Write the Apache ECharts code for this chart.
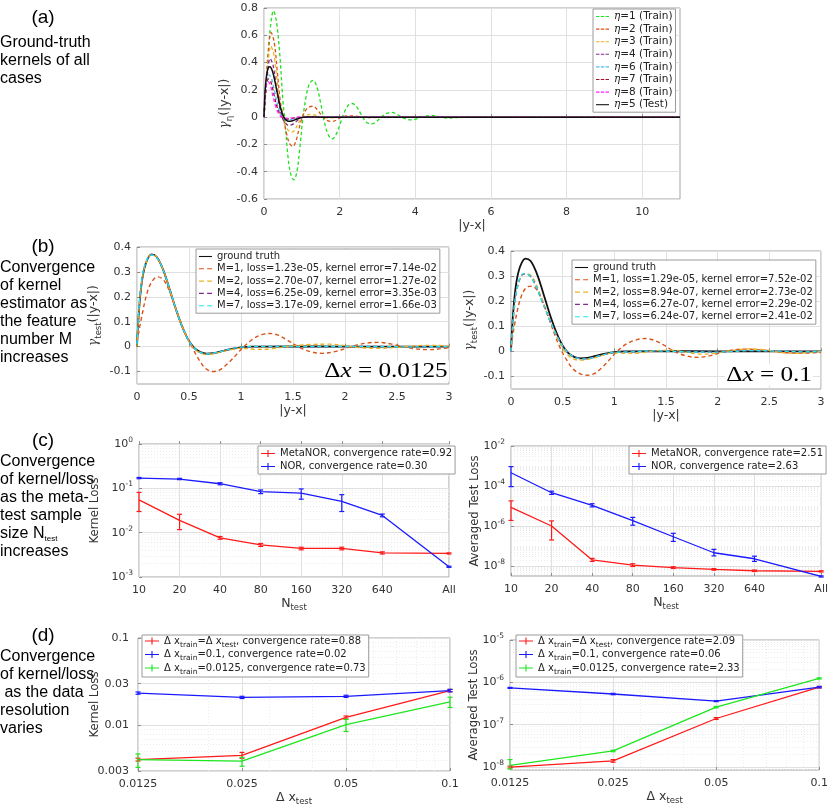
<!DOCTYPE html>
<html><head><meta charset="utf-8">
<script src="https://cdn.jsdelivr.net/npm/echarts@6/dist/echarts.min.js"></script>
<style>html,body{margin:0;padding:0;background:#fff}#c{width:831px;height:808px}</style>
</head><body><div id="c"></div>
<script>
// ================= DATA =================
// (a) ground-truth kernels  [|y-x|, gamma]
const eta1 = [[0,0],[0.05,0.2],[0.1,0.42],[0.17,0.66],[0.25,0.78],[0.33,0.7],[0.42,0.45],[0.5,0.12],[0.56,-0.05],[0.63,-0.28],[0.71,-0.42],[0.79,-0.46],[0.87,-0.4],[0.95,-0.22],[1.03,0],[1.12,0.16],[1.21,0.25],[1.3,0.27],[1.4,0.22],[1.5,0.1],[1.6,-0.04],[1.7,-0.13],[1.8,-0.16],[1.9,-0.13],[2.0,-0.06],[2.1,0.02],[2.22,0.085],[2.33,0.1],[2.45,0.075],[2.57,0.02],[2.7,-0.035],[2.83,-0.05],[2.96,-0.035],[3.1,0],[3.23,0.026],[3.36,0.035],[3.5,0.024],[3.63,0.002],[3.76,-0.014],[3.9,-0.02],[4.03,-0.013],[4.17,0],[4.3,0.009],[4.43,0.012],[4.56,0.007],[4.7,-0.002],[4.85,-0.007],[5.0,-0.006],[5.2,0],[5.4,0.003],[5.7,0],[6.2,0],[8,0],[11,0]];
const eta2 = [[0,0],[0.05,0.22],[0.1,0.44],[0.19,0.62],[0.27,0.55],[0.35,0.34],[0.43,0.12],[0.51,0],[0.58,-0.1],[0.67,-0.19],[0.76,-0.215],[0.85,-0.17],[0.93,-0.08],[1.0,-0.01],[1.1,0.05],[1.2,0.075],[1.3,0.08],[1.42,0.05],[1.55,0.005],[1.68,-0.025],[1.8,-0.032],[1.93,-0.02],[2.05,0],[2.2,0.009],[2.35,0.01],[2.5,0.004],[2.7,-0.003],[2.9,-0.003],[3.2,0],[5,0],[11,0]];
const eta3 = [[0,0],[0.05,0.2],[0.1,0.38],[0.18,0.52],[0.26,0.46],[0.34,0.28],[0.42,0.1],[0.5,-0.01],[0.58,-0.07],[0.67,-0.105],[0.75,-0.11],[0.84,-0.08],[0.93,-0.035],[1.02,0],[1.12,0.015],[1.25,0.02],[1.38,0.012],[1.5,0],[1.65,-0.006],[1.8,-0.005],[2.0,0],[4,0],[11,0]];
const eta4 = [[0,0],[0.05,0.2],[0.1,0.34],[0.16,0.43],[0.24,0.38],[0.32,0.23],[0.4,0.09],[0.48,0],[0.56,-0.04],[0.65,-0.06],[0.74,-0.055],[0.84,-0.035],[0.95,-0.01],[1.05,0.002],[1.2,0.004],[1.4,0],[3,0],[11,0]];
const eta6 = [[0,0],[0.04,0.19],[0.08,0.28],[0.13,0.31],[0.2,0.28],[0.28,0.19],[0.36,0.09],[0.44,0.02],[0.52,-0.012],[0.62,-0.02],[0.74,-0.015],[0.88,-0.005],[1.0,0],[2,0],[11,0]];
const eta7 = [[0,0],[0.04,0.18],[0.08,0.26],[0.12,0.28],[0.18,0.26],[0.26,0.17],[0.34,0.08],[0.42,0.02],[0.5,-0.008],[0.6,-0.014],[0.72,-0.01],[0.86,-0.003],[1.0,0],[2,0],[11,0]];
const eta8 = [[0,0],[0.03,0.16],[0.06,0.23],[0.1,0.26],[0.16,0.24],[0.24,0.15],[0.32,0.07],[0.4,0.02],[0.48,-0.004],[0.58,-0.01],[0.7,-0.007],[0.85,-0.002],[1.0,0],[2,0],[11,0]];
const eta5 = [[0,0],[0.03,0.2],[0.07,0.31],[0.11,0.36],[0.15,0.37],[0.2,0.355],[0.26,0.3],[0.32,0.22],[0.38,0.14],[0.44,0.065],[0.5,0.015],[0.56,-0.015],[0.62,-0.028],[0.68,-0.031],[0.76,-0.026],[0.85,-0.016],[0.95,-0.006],[1.05,0],[1.2,0.001],[1.5,0],[3,0],[11,0]];
const etaNames = ['η=1 (Train)','η=2 (Train)','η=3 (Train)','η=4 (Train)','η=6 (Train)','η=7 (Train)','η=8 (Train)','η=5 (Test)'];

// (b) kernel estimators
const groundTruth = [[0,0],[0.02,0.15],[0.05,0.27],[0.09,0.34],[0.14,0.37],[0.19,0.36],[0.25,0.31],[0.31,0.235],[0.37,0.155],[0.43,0.085],[0.49,0.03],[0.55,-0.005],[0.61,-0.022],[0.67,-0.028],[0.74,-0.026],[0.82,-0.018],[0.9,-0.01],[1.0,-0.003],[1.1,0],[1.5,0.001],[2,0],[2.5,0],[3,0]];
const m1Fine = [[0,0.02],[0.05,0.13],[0.1,0.22],[0.15,0.265],[0.2,0.28],[0.25,0.27],[0.3,0.235],[0.36,0.17],[0.42,0.1],[0.48,0.04],[0.54,-0.01],[0.6,-0.055],[0.66,-0.088],[0.73,-0.1],[0.8,-0.092],[0.88,-0.065],[0.96,-0.03],[1.04,0.005],[1.12,0.032],[1.2,0.048],[1.27,0.053],[1.35,0.047],[1.45,0.025],[1.55,0],[1.65,-0.018],[1.78,-0.027],[1.9,-0.02],[2.0,-0.008],[2.1,0.005],[2.22,0.015],[2.32,0.017],[2.45,0.01],[2.58,-0.002],[2.7,-0.01],[2.82,-0.012],[2.92,-0.008],[3,-0.004]];
const m2Fine = [[0,0],[0.02,0.15],[0.05,0.27],[0.09,0.34],[0.14,0.37],[0.19,0.36],[0.25,0.31],[0.31,0.235],[0.37,0.155],[0.43,0.085],[0.49,0.028],[0.55,-0.008],[0.61,-0.026],[0.67,-0.031],[0.74,-0.028],[0.82,-0.02],[0.9,-0.012],[1.0,-0.006],[1.15,-0.011],[1.3,-0.008],[1.5,0.003],[1.7,0.009],[1.85,0.01],[2.0,0.004],[2.15,-0.004],[2.3,-0.007],[2.5,-0.003],[2.7,0.004],[2.85,0.005],[3,0.002]];
const m4Fine = [[0,0.01],[0.02,0.155],[0.05,0.275],[0.09,0.343],[0.14,0.369],[0.19,0.359],[0.25,0.31],[0.31,0.235],[0.37,0.155],[0.43,0.085],[0.49,0.03],[0.55,-0.006],[0.61,-0.023],[0.67,-0.029],[0.74,-0.026],[0.82,-0.018],[0.9,-0.009],[1.0,-0.003],[1.2,0.001],[1.6,-0.001],[2.2,0.001],[2.6,-0.001],[3,0]];
const m7Fine = [[0,0.01],[0.02,0.16],[0.05,0.28],[0.09,0.345],[0.14,0.368],[0.19,0.358],[0.25,0.31],[0.31,0.235],[0.37,0.155],[0.43,0.085],[0.49,0.03],[0.55,-0.006],[0.61,-0.023],[0.67,-0.029],[0.74,-0.026],[0.82,-0.018],[0.9,-0.009],[1.0,-0.002],[1.2,0.001],[1.6,0],[2.2,0.001],[2.6,-0.001],[3,0]];
const m1Coarse = [[0,0.02],[0.05,0.14],[0.1,0.22],[0.15,0.255],[0.2,0.26],[0.25,0.245],[0.3,0.205],[0.36,0.14],[0.42,0.07],[0.48,0.01],[0.54,-0.035],[0.6,-0.07],[0.67,-0.09],[0.74,-0.095],[0.8,-0.09],[0.88,-0.065],[0.96,-0.03],[1.04,0.005],[1.12,0.03],[1.22,0.047],[1.3,0.051],[1.38,0.045],[1.48,0.025],[1.58,0],[1.68,-0.016],[1.8,-0.024],[1.92,-0.018],[2.02,-0.006],[2.12,0.004],[2.25,0.009],[2.4,0.006],[2.55,0],[2.7,-0.006],[2.85,-0.007],[3,-0.004]];
const m2Coarse = [[0,0],[0.04,0.2],[0.08,0.28],[0.13,0.31],[0.2,0.3],[0.28,0.23],[0.36,0.14],[0.44,0.06],[0.52,0],[0.6,-0.03],[0.68,-0.035],[0.78,-0.028],[0.9,-0.014],[1.0,-0.006],[1.12,-0.008],[1.25,-0.006],[1.4,0.002],[1.55,0.005],[1.7,-0.004],[1.85,-0.011],[2.0,-0.006],[2.15,0.004],[2.3,0.01],[2.45,0.006],[2.6,-0.004],[2.75,-0.008],[2.9,-0.004],[3,0]];
const m4Coarse = [[0,0],[0.03,0.17],[0.07,0.27],[0.12,0.308],[0.17,0.305],[0.23,0.27],[0.3,0.2],[0.37,0.13],[0.44,0.066],[0.51,0.016],[0.58,-0.014],[0.65,-0.027],[0.72,-0.03],[0.8,-0.024],[0.9,-0.013],[1.0,-0.005],[1.15,-0.003],[1.4,0.002],[1.7,-0.002],[2.0,-0.003],[2.3,0.003],[2.6,0.001],[2.85,-0.002],[3,0]];
const m7Coarse = [[0,0],[0.03,0.17],[0.07,0.27],[0.12,0.31],[0.17,0.305],[0.23,0.27],[0.3,0.2],[0.37,0.13],[0.44,0.065],[0.51,0.015],[0.58,-0.015],[0.65,-0.028],[0.72,-0.03],[0.8,-0.024],[0.9,-0.013],[1.0,-0.004],[1.15,-0.002],[1.4,0.002],[1.7,-0.002],[2.0,-0.003],[2.3,0.003],[2.6,0.001],[2.85,-0.002],[3,0]];
const fineNames = ['ground truth','M=1, loss=1.23e-05, kernel error=7.14e-02','M=2, loss=2.70e-07, kernel error=1.27e-02','M=4, loss=6.25e-09, kernel error=3.35e-03','M=7, loss=3.17e-09, kernel error=1.66e-03'];
const coarseNames = ['ground truth','M=1, loss=1.29e-05, kernel error=7.52e-02','M=2, loss=8.94e-07, kernel error=2.73e-02','M=4, loss=6.27e-07, kernel error=2.29e-02','M=7, loss=6.24e-07, kernel error=2.41e-02'];

// (c) convergence vs N_test
const nTest = [10,20,40,80,160,320,640,2000];
const nTestLabels = ['10','20','40','80','160','320','640','All'];
const kernelMeta   = [0.055,0.019,0.0076,0.0053,0.0044,0.0044,0.0035,0.0034];
const kernelMetaLo = [0.030,0.0117,0.0071,0.0049,0.0041,0.0041,0.0033,0.0033];
const kernelMetaHi = [0.081,0.026,0.0082,0.0057,0.0047,0.0047,0.0037,0.0035];
const kernelNor    = [0.17,0.162,0.127,0.084,0.078,0.051,0.0245,0.0017];
const kernelNorLo  = [0.165,0.157,0.12,0.076,0.057,0.030,0.0228,0.00165];
const kernelNorHi  = [0.176,0.168,0.134,0.092,0.097,0.072,0.0263,0.00175];
const testMeta   = [8.5e-6,1e-6,2e-8,1.1e-8,8.3e-9,6.8e-9,5.8e-9,5.4e-9];
const testMetaLo = [1.9e-6,2e-7,1.7e-8,9.5e-9,7.5e-9,6.2e-9,5.3e-9,5e-9];
const testMetaHi = [1.8e-5,1.8e-6,2.4e-8,1.3e-8,9.2e-9,7.4e-9,6.3e-9,5.8e-9];
const testNor    = [4.6e-4,4.6e-5,1.08e-5,1.85e-6,2.9e-7,4.6e-8,2.3e-8,3e-9];
const testNorLo  = [9.3e-5,3.8e-5,9e-6,1.1e-6,1.7e-7,3.2e-8,1.7e-8,2.8e-9];
const testNorHi  = [9.3e-4,5.5e-5,1.3e-5,2.7e-6,4.3e-7,6.8e-8,3.1e-8,3.2e-9];
const cNamesL = ['MetaNOR, convergence rate=0.92','NOR, convergence rate=0.30'];
const cNamesR = ['MetaNOR, convergence rate=2.51','NOR, convergence rate=2.63'];

// (d) convergence vs resolution
const dxTest = ['0.0125','0.025','0.05','0.1'];
const kSame   = [0.00405,0.00453,0.0123,0.025];
const kSameLo = [0.0039,0.0042,0.0118,0.0242];
const kSameHi = [0.0042,0.0049,0.0128,0.0258];
const kCoarse   = [0.0234,0.0209,0.0215,0.025];
const kCoarseLo = [0.0227,0.0203,0.0209,0.0242];
const kCoarseHi = [0.0241,0.0215,0.0221,0.0258];
const kFine   = [0.00405,0.0039,0.0102,0.0186];
const kFineLo = [0.0033,0.0034,0.0085,0.016];
const kFineHi = [0.0047,0.0043,0.0117,0.021];
const tSame   = [1e-8,1.4e-8,1.4e-7,7.7e-7];
const tSameLo = [9.5e-9,1.3e-8,1.33e-7,7.4e-7];
const tSameHi = [1.05e-8,1.5e-8,1.47e-7,8e-7];
const tCoarse   = [7.4e-7,5.3e-7,3.6e-7,7.7e-7];
const tCoarseLo = [7.2e-7,5.1e-7,3.5e-7,7.4e-7];
const tCoarseHi = [7.6e-7,5.5e-7,3.7e-7,8e-7];
const tFine   = [1.1e-8,2.4e-8,2.6e-7,1.24e-6];
const tFineLo = [9e-9,2.3e-8,2.5e-7,1.2e-6];
const tFineHi = [1.5e-8,2.5e-8,2.7e-7,1.28e-6];
const dRatesL = ['0.88','0.02','0.73'];
const dRatesR = ['2.09','0.06','2.33'];

// tick values
const aXTicks = [0,2,4,6,8,10];
const aYTicks = [-0.6,-0.4,-0.2,0,0.2,0.4,0.6,0.8];
const bXTicks = [0,0.5,1,1.5,2,2.5,3];
const bYTicks = [-0.1,0,0.1,0.2,0.3,0.4];
const cLYTicks = [1e-3,1e-2,1e-1,1];
const cRYTicks = [1e-8,1e-6,1e-4,1e-2];
const dLYTicks = [0.003,0.01,0.03,0.1];
const dRYTicks = [1e-8,1e-7,1e-6,1e-5];
const dXMinor = [0.02,0.03,0.04,0.06,0.07,0.08,0.09];

// ================= CHART =================
const TF = 'DejaVu Sans';
const CF = 'DejaVu Sans Condensed';
const lg = Math.log10;
const nPos = nTest.map(n => Math.log2(n / 10));

// minor log grid positions (k * 10^j) inside [lo, hi] (log10 space), excluding major ticks
function logMinors(lo, hi, majors) {
  const out = [];
  for (let j = Math.floor(lo) - 1; j <= Math.ceil(hi); j++) {
    for (let k = 1; k <= 9; k++) {
      const v = lg(k) + j;
      if (v > lo + 1e-6 && v < hi - 1e-6 && !majors.some(m => Math.abs(lg(m) - v) < 1e-6)) out.push(v);
    }
  }
  return out;
}

const supRich = {
  b: {fontFamily: TF, fontSize: 11, lineHeight: 16, color: '#333'},
  s: {fontFamily: TF, fontSize: 7.5, lineHeight: 8, verticalAlign: 'top', color: '#333'}
};
const nameRich = {
  b: {fontFamily: TF, fontSize: 12.5, lineHeight: 18, color: '#333'},
  s: {fontFamily: TF, fontSize: 8.5, lineHeight: 8, verticalAlign: 'bottom', color: '#333'},
  g: {fontFamily: 'DejaVu Serif', fontStyle: 'italic', fontSize: 12, lineHeight: 18, color: '#333'},
  k: {fontFamily: CF, fontSize: 13, lineHeight: 18, color: '#333'}
};

function grid(l, t, w, h) {
  return {left: l, top: t, width: w, height: h, show: true, borderColor: '#a3a3a3', borderWidth: 1, backgroundColor: 'transparent'};
}
function axis(dim, gi, min, max, ticks, fmt, name, gap, extra) {
  return Object.assign({
    type: 'value', gridIndex: gi, min: min, max: max,
    axisLine: {show: false},
    axisTick: {show: true, inside: true, length: 3, customValues: ticks, lineStyle: {color: '#777', width: 0.8}},
    axisLabel: {customValues: ticks, formatter: fmt, fontFamily: TF, fontSize: 11, color: '#333', margin: dim === 'x' ? 8 : 6, rich: supRich},
    splitLine: {show: true, lineStyle: {color: '#e0e0e0', width: 1}},
    name: name, nameLocation: 'middle', nameGap: gap, nameMoveOverlap: dim === 'x',
    nameTextStyle: {fontFamily: TF, fontSize: 12.5, color: '#333', rich: nameRich}
  }, extra || {});
}
function minorAxis(gi, min, max, vals) {
  return {type: 'value', gridIndex: gi, min: min, max: max, z: 0,
    axisLine: {show: false},
    axisTick: {show: false, customValues: vals},
    axisLabel: {show: false, customValues: vals},
    splitLine: {show: true, lineStyle: {color: '#ececec', width: 1, type: [1, 2]}}};
}
const plain = v => String(+(+v).toFixed(3));
const pow10 = v => '{b|10}{s|' + Math.round(v) + '}';

function catAxis(gi) {
  return {type: 'category', gridIndex: gi, data: dxTest, boundaryGap: false,
   axisLine: {show: false}, axisTick: {show: true, inside: true, length: 3, alignWithLabel: true, lineStyle: {color: '#777', width: 0.8}},
   axisLabel: {fontFamily: TF, fontSize: 11, color: '#333', margin: 8},
   splitLine: {show: true, lineStyle: {color: '#e0e0e0', width: 1}},
   name: '{b|Δ x}{s|test}', nameLocation: 'middle', nameGap: 16, nameTextStyle: {rich: nameRich}};
}
const nFmt = v => nTestLabels[nPos.findIndex(p => Math.abs(p - v) < 1e-6)] || '';
const dxMin = Math.log2(+dxTest[0]), dxMax = Math.log2(+dxTest[dxTest.length - 1]);
const xAxes = [
  axis('x', 0, 0, 11, aXTicks, plain, '{b||y-x|}', 15),
  axis('x', 1, 0, 3, bXTicks, plain, '{b||y-x|}', 15),
  axis('x', 2, 0, 3, bXTicks, plain, '{b||y-x|}', 15),
  axis('x', 3, 0, nPos[nPos.length - 1], nPos, nFmt, '{b|N}{s|test}', 15),
  axis('x', 4, 0, nPos[nPos.length - 1], nPos, nFmt, '{b|N}{s|test}', 15),
  catAxis(5), catAxis(6),
  minorAxis(5, dxMin, dxMax, dXMinor.map(Math.log2)),
  minorAxis(6, dxMin, dxMax, dXMinor.map(Math.log2))
];
const cLR = [lg(1e-3), lg(1)], cRR = [-8.5, lg(1e-2)], dLR = [lg(0.003), lg(0.1)], dRR = [-8.07, lg(1e-5)];
const yAxes = [
  axis('y', 0, -0.6, 0.8, aYTicks, plain, '{g|γ}{s|η}{b|(|y-x|)}', 30),
  axis('y', 1, -0.15, 0.4, bYTicks, plain, '{g|γ}{s|test}{b|(|y-x|)}', 34),
  axis('y', 2, -0.15, 0.4, bYTicks, plain, '{g|γ}{s|test}{b|(|y-x|)}', 32),
  axis('y', 3, cLR[0], cLR[1], cLYTicks.map(lg), pow10, '{k|Kernel Loss}', 35),
  axis('y', 4, cRR[0], cRR[1], cRYTicks.map(lg), pow10, '{k|Averaged Test Loss}', 27),
  axis('y', 5, dLR[0], dLR[1], dLYTicks.map(lg), v => String(+Math.pow(10, v).toPrecision(1)), '{k|Kernel Loss}', 34),
  axis('y', 6, dRR[0], dRR[1], dRYTicks.map(lg), pow10, '{k|Averaged Test Loss}', 27),
  minorAxis(3, cLR[0], cLR[1], logMinors(cLR[0], cLR[1], cLYTicks)),
  minorAxis(4, cRR[0], cRR[1], logMinors(cRR[0], cRR[1], cRYTicks)),
  minorAxis(5, dLR[0], dLR[1], logMinors(dLR[0], dLR[1], dLYTicks)),
  minorAxis(6, dRR[0], dRR[1], logMinors(dRR[0], dRR[1], dRYTicks))
];
yAxes[5].axisLabel.margin = 9;

const series = [];
// (a)
const etaData = [eta1, eta2, eta3, eta4, eta6, eta7, eta8, eta5];
const etaColors = ['#22e022', '#d95319', '#edb120', '#7e2f8e', '#4dbeee', '#a2142f', '#ff22ff', '#111'];
etaData.forEach((d, i) => {
  const test = i === etaData.length - 1;
  series.push({type: 'line', name: etaNames[i], xAxisIndex: 0, yAxisIndex: 0, data: d, smooth: 0.35, symbol: 'none',
    color: etaColors[i], z: test ? 5 : 3,
    lineStyle: {color: etaColors[i], width: test ? 1.5 : 1.3, type: test ? 'solid' : [3.5, 2.5]}});
});
// (b)
const bColors = ['#111', '#d95319', '#edb120', '#7e2f8e', '#22e8e8'];
[[groundTruth, m1Fine, m2Fine, m4Fine, m7Fine, fineNames, 1], [groundTruth, m1Coarse, m2Coarse, m4Coarse, m7Coarse, coarseNames, 2]].forEach(set => {
  const gi = set[6];
  for (let i = 0; i < 5; i++) {
    series.push({type: 'line', name: set[5][i], xAxisIndex: gi, yAxisIndex: gi, data: set[i], smooth: 0.35, symbol: 'none',
      color: bColors[i], z: 3 + i,
      lineStyle: {color: bColors[i], width: i === 0 ? 1.8 : 1.4, type: i === 0 ? 'solid' : [4, 3]}});
  }
});
// error bars
function errBars(gi, xs, lo, hi, color) {
  return {type: 'custom', xAxisIndex: gi, yAxisIndex: gi, silent: true, z: 6,
    encode: {x: 0, y: [1, 2]},
    data: xs.map((x, i) => [x, lg(lo[i]), lg(hi[i])]),
    renderItem: (params, api) => {
      const a = api.coord([api.value(0), api.value(1)]);
      const b = api.coord([api.value(0), api.value(2)]);
      const w = 2.5, st = {stroke: color, lineWidth: 1.2, fill: null};
      return {type: 'group', children: [
        {type: 'line', shape: {x1: a[0], y1: a[1], x2: b[0], y2: b[1]}, style: st},
        {type: 'line', shape: {x1: a[0] - w, y1: a[1], x2: a[0] + w, y2: a[1]}, style: st},
        {type: 'line', shape: {x1: b[0] - w, y1: b[1], x2: b[0] + w, y2: b[1]}, style: st}
      ]};
    }};
}
function errLine(gi, name, xs, vals, color) {
  return {type: 'line', name: name, xAxisIndex: gi, yAxisIndex: gi, symbol: 'none', color: color, z: 5,
    data: xs.map((x, i) => [x, lg(vals[i])]), lineStyle: {color: color, width: 1.3}};
}
const RED = '#ff1a1a', BLUE = '#1a1aff', GREEN = '#1ee61e';
series.push(errLine(3, cNamesL[0], nPos, kernelMeta, RED), errBars(3, nPos, kernelMetaLo, kernelMetaHi, RED));
series.push(errLine(3, cNamesL[1], nPos, kernelNor, BLUE), errBars(3, nPos, kernelNorLo, kernelNorHi, BLUE));
series.push(errLine(4, cNamesR[0], nPos, testMeta, RED), errBars(4, nPos, testMetaLo, testMetaHi, RED));
series.push(errLine(4, cNamesR[1], nPos, testNor, BLUE), errBars(4, nPos, testNorLo, testNorHi, BLUE));
const dIdx = dxTest.map((_, i) => i);
const dKeys = ['same', 'coarse', 'fine'];
[[5, [kSame, kCoarse, kFine], [kSameLo, kCoarseLo, kFineLo], [kSameHi, kCoarseHi, kFineHi], dRatesL],
 [6, [tSame, tCoarse, tFine], [tSameLo, tCoarseLo, tFineLo], [tSameHi, tCoarseHi, tFineHi], dRatesR]].forEach(s => {
  const cols = [RED, BLUE, GREEN];
  for (let i = 0; i < 3; i++) {
    series.push(errLine(s[0], dKeys[i] + '|' + s[4][i] + '|' + s[0], dIdx, s[1][i], cols[i]));
    series.push(errBars(s[0], dIdx, s[2][i], s[3][i], cols[i]));
  }
});

const DASH3 = 'path://M0,0h3.2v1h-3.2z M4.4,0h3.2v1h-3.2z M8.8,0h3.2v1h-3.2z';
const DASH2 = 'path://M0,0h4.5v1h-4.5z M7.5,0h4.5v1h-4.5z';
const SOLID = 'path://M0,0h12v1h-12z';
const legBase = {orient: 'vertical', backgroundColor: '#fff', borderColor: '#9a9a9a', borderWidth: 1, borderRadius: 0,
  selectedMode: false, itemWidth: 13, itemHeight: 1.6, itemGap: 1.5, padding: [2, 3, 2, 3],
  textStyle: {fontFamily: TF, fontSize: 10, lineHeight: 11, color: '#222'}};
const plusIcon = 'path://M0,4.4h20v1.2h-20z M9.2,0h1.6v10h-1.6z';
const dLegendRich = {
  n: {fontFamily: TF, fontSize: 10, lineHeight: 16, color: '#222'},
  s: {fontFamily: TF, fontSize: 7.5, lineHeight: 8, verticalAlign: 'bottom', color: '#222'}
};
function dFmt(name) {
  const p = name.split('|');
  const head = p[0] === 'same' ? '{n|Δ x}{s|train}{n|=Δ x}{s|test}{n|,' :
               p[0] === 'coarse' ? '{n|Δ x}{s|train}{n|=0.1,' : '{n|Δ x}{s|train}{n|=0.0125,';
  return head + ' convergence rate=' + p[1] + '}';
}
const lineItems = (names, dash) => names.map((n, i) => ({name: n, icon: (i === names.length - 1 && dash === DASH3) || (i === 0 && dash === DASH2) ? SOLID : dash}));
const legends = [
  Object.assign({}, legBase, {data: lineItems(etaNames, DASH3), left: 593, top: 9, itemGap: 1.6,
    textStyle: {fontFamily: TF, fontSize: 10.5, lineHeight: 11, color: '#222',
      rich: {g: {fontFamily: 'DejaVu Serif', fontStyle: 'italic', fontSize: 10.5, lineHeight: 11, color: '#222'},
             t: {fontFamily: TF, fontSize: 10.5, lineHeight: 11, color: '#222'}}},
    formatter: n => '{g|η}{t|' + n.slice(1) + '}'}),
  Object.assign({}, legBase, {data: lineItems(fineNames, DASH2), left: 196, top: 249, itemGap: 1.3}),
  Object.assign({}, legBase, {data: lineItems(coarseNames, DASH2), left: 572, top: 260, itemGap: 1.3}),
  Object.assign({}, legBase, {data: cNamesL, left: 258, top: 446, icon: plusIcon, itemWidth: 14, itemHeight: 10, itemGap: 2}),
  Object.assign({}, legBase, {data: cNamesR, left: 629, top: 446, icon: plusIcon, itemWidth: 14, itemHeight: 10, itemGap: 2}),
  Object.assign({}, legBase, {data: dKeys.map((k, i) => k + '|' + dRatesL[i] + '|5'), left: 142, top: 635, icon: plusIcon, itemWidth: 14, itemHeight: 10, itemGap: 0.5,
    padding: [1, 3, 1, 3], textStyle: {fontFamily: TF, fontSize: 10, color: '#222', rich: dLegendRich}, formatter: dFmt}),
  Object.assign({}, legBase, {data: dKeys.map((k, i) => k + '|' + dRatesR[i] + '|6'), left: 516, top: 635, icon: plusIcon, itemWidth: 14, itemHeight: 10, itemGap: 0.5,
    padding: [1, 3, 1, 3], textStyle: {fontFamily: TF, fontSize: 10, color: '#222', rich: dLegendRich}, formatter: dFmt})
];

const LF = 'Liberation Sans';
function head(label, cy) {
  return {type: 'text', x: 43, y: cy,
    style: {text: label, fontSize: 19, fontFamily: LF, fill: '#000', textAlign: 'center', textVerticalAlign: 'middle', align: 'center', verticalAlign: 'middle'}};
}
function body(text, top) {
  return {type: 'text', x: 0, y: top,
    style: {text: text, fontSize: 16, fontFamily: LF, lineHeight: 18, fill: '#000', textAlign: 'left', textVerticalAlign: 'top', align: 'left', verticalAlign: 'top',
      rich: {s: {fontSize: 8, fontFamily: LF, lineHeight: 8, verticalAlign: 'bottom', fill: '#000'}}}};
}
function mathText(txt, x, y) {
  return {type: 'text', x: x, y: y, scaleX: 1.2, z: 10,
    style: {text: '{d|Δ}{x|x}{e| = ' + txt + '}', fill: '#000', backgroundColor: '#fff', padding: [0, 1, 0, 1],
      textAlign: 'left', textVerticalAlign: 'middle', align: 'left', verticalAlign: 'middle',
      rich: {d: {fontFamily: 'Liberation Serif', fontSize: 21, fill: '#000'},
             x: {fontFamily: 'Liberation Serif', fontStyle: 'italic', fontSize: 21, fill: '#000'},
             e: {fontFamily: 'Liberation Serif', fontSize: 21, fill: '#000'}}}};
}

const option = {
  animation: false,
  backgroundColor: '#fff',
  textStyle: {fontFamily: TF},
  grid: [grid(264, 8, 416, 191), grid(137, 247, 312, 137), grid(511, 251, 310, 138),
         grid(139, 444, 310, 133), grid(511, 446, 311, 130), grid(138, 638, 312, 133), grid(510, 640, 311, 130)],
  xAxis: xAxes, yAxis: yAxes, series: series, legend: legends,
  graphic: [
    head('(a)', 18), body('Ground-truth\nkernels of all\ncases', 34),
    head('(b)', 247), body('Convergence\nof kernel\nestimator as\nthe feature\nnumber M\nincreases', 259),
    head('(c)', 441), body('Convergence\nof kernel/loss\nas the meta-\ntest sample\nsize N{s|test}\nincreases', 453),
    head('(d)', 636), body('Convergence\nof kernel/loss\n as the data\nresolution\nvaries', 648),
    mathText('0.0125', 323, 371), mathText('0.1', 725, 375)
  ]
};
const chart = echarts.init(document.getElementById('c'));
chart.setOption(option);
</script>
</body></html>
